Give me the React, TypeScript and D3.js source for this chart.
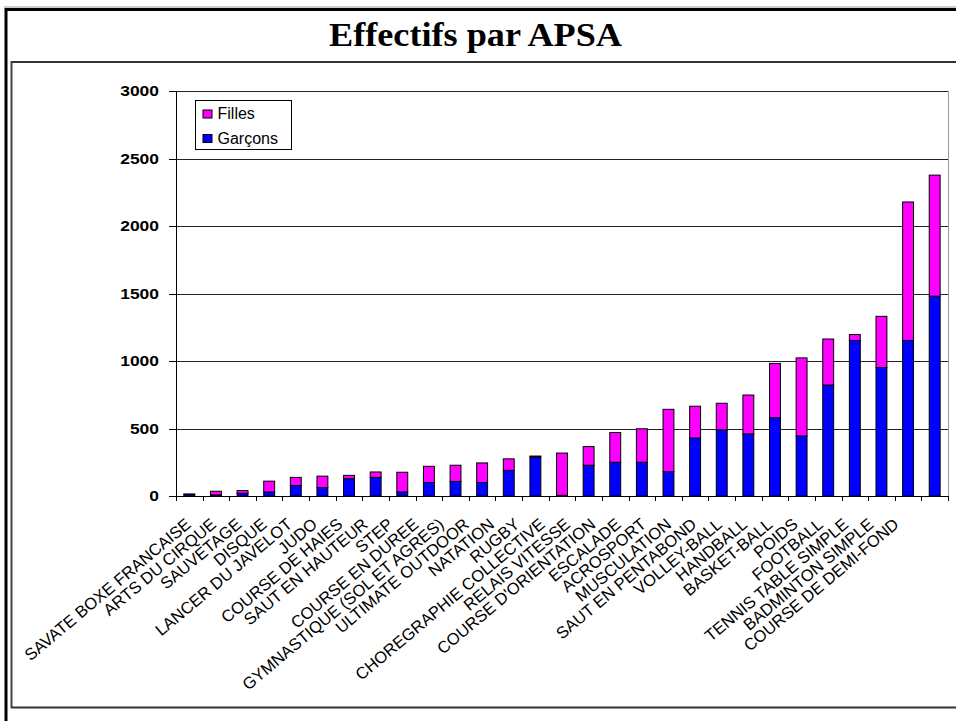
import React from "react";
import * as d3 from "d3";

const categories = [
  "SAVATE BOXE FRANCAISE",
  "ARTS DU CIRQUE",
  "SAUVETAGE",
  "DISQUE",
  "LANCER DU JAVELOT",
  "JUDO",
  "COURSE DE HAIES",
  "SAUT EN HAUTEUR",
  "STEP",
  "COURSE EN DUREE",
  "GYMNASTIQUE (SOL ET AGRES)",
  "ULTIMATE OUTDOOR",
  "NATATION",
  "RUGBY",
  "CHOREGRAPHIE COLLECTIVE",
  "RELAIS VITESSE",
  "COURSE D'ORIENTATION",
  "ESCALADE",
  "ACROSPORT",
  "MUSCULATION",
  "SAUT EN PENTABOND",
  "VOLLEY-BALL",
  "HANDBALL",
  "BASKET-BALL",
  "POIDS",
  "FOOTBALL",
  "TENNIS TABLE SIMPLE",
  "BADMINTON SIMPLE",
  "COURSE DE DEMI-FOND",
];

const garcons = [12, 8, 20, 30, 78, 62, 128, 138, 30, 100, 108, 100, 190, 288, 5, 228, 250, 250, 180, 430, 490, 460, 580, 445, 822, 1152, 952, 1152, 1480];
const filles = [3, 27, 20, 80, 60, 85, 25, 40, 146, 120, 120, 145, 85, 8, 313, 138, 220, 248, 462, 235, 197, 288, 402, 578, 341, 44, 379, 1026, 897];

const yTicks = [0, 500, 1000, 1500, 2000, 2500, 3000];
const seriesNames = ["Filles", "Garçons"];
const seriesColors = ["#FF00FF", "#0000FF"];
const title = "Effectifs par APSA";

export default function App() {
  const W = 956;
  const H = 721;
  const left = 176;
  const right = 948;
  const top = 91;
  const bottom = 496;

  const x = d3.scaleBand<string>().domain(categories).range([left, right]).paddingInner(0).paddingOuter(0);
  const step = x.step();
  const y = d3.scaleLinear().domain([0, 3000]).range([bottom, top]);
  const labelX = d3.scalePoint<string>().domain(categories).range([192, 900]);

  const rows = categories.map((c, i) => ({ cat: c, g: garcons[i], f: filles[i] }));
  const stack = d3.stack<any>().keys(["g", "f"])(rows);

  const barW = step * 0.41;
  const barOff = (step - barW) / 2;

  return (
    <svg
      width={W}
      height={H}
      style={{ position: "absolute", left: 0, top: 0, display: "block", background: "#fff" }}
      fontFamily="Liberation Sans, Arial, sans-serif"
    >
      <rect x={0} y={0} width={W} height={H} fill="#fff" />
      {/* outer frame */}
      <line x1={4} x2={W} y1={7} y2={7} stroke="#999" strokeWidth={1} />
      <line x1={5} x2={W} y1={9.5} y2={9.5} stroke="#000" strokeWidth={3} />
      <line x1={6} x2={6} y1={8} y2={H} stroke="#000" strokeWidth={3} />
      {/* inner frame */}
      <line x1={11.5} x2={W} y1={62} y2={62} stroke="#333" strokeWidth={2} />
      <line x1={11.5} x2={11.5} y1={61} y2={708} stroke="#444" strokeWidth={2} />
      <line x1={11} x2={W} y1={707.5} y2={707.5} stroke="#333" strokeWidth={2} />

      <text
        x={475.5}
        y={46}
        textAnchor="middle"
        fontFamily="Liberation Serif, Times New Roman, serif"
        fontWeight="bold"
        fontSize={33}
        textLength={293}
        lengthAdjust="spacingAndGlyphs"
        fill="#000"
      >
        {title}
      </text>

      {/* gridlines */}
      {yTicks.filter((t) => t > 0).map((t) => (
        <line key={t} x1={left} x2={right} y1={Math.round(y(t)) + 0.5} y2={Math.round(y(t)) + 0.5} stroke="#222" strokeWidth={1} />
      ))}
      {/* right border */}
      <line x1={right + 0.5} x2={right + 0.5} y1={Math.round(y(3000))} y2={bottom} stroke="#999" strokeWidth={1} />

      {/* bars */}
      {stack.map((layer, li) => (
        <g key={li} fill={li === 0 ? seriesColors[1] : seriesColors[0]}>
          {layer.map((d: any, i: number) => (
            <rect
              key={i}
              x={(x(categories[i]) as number) + barOff}
              y={y(d[1])}
              width={barW}
              height={Math.max(0, y(d[0]) - y(d[1]))}
              stroke="#000"
              strokeWidth={1}
            />
          ))}
        </g>
      ))}

      {/* y axis */}
      <line x1={left + 0.5} x2={left + 0.5} y1={top} y2={bottom} stroke="#000" strokeWidth={1} />
      {yTicks.map((t) => (
        <g key={t}>
          <line x1={169} x2={left} y1={Math.round(y(t)) + 0.5} y2={Math.round(y(t)) + 0.5} stroke="#000" strokeWidth={1} />
          <text
            x={159}
            y={y(t)}
            dy="0.36em"
            textAnchor="end"
            fontSize={14}
            fontWeight="bold"
            textLength={String(t).length * 9.7}
            lengthAdjust="spacingAndGlyphs"
            fill="#000"
          >
            {t}
          </text>
        </g>
      ))}

      {/* x axis */}
      <line x1={left} x2={right + 1} y1={bottom + 0.5} y2={bottom + 0.5} stroke="#000" strokeWidth={1} />
      {categories.map((c, i) => (
        <line key={"t" + i} x1={Math.round(x(c) as number) + 0.5} x2={Math.round(x(c) as number) + 0.5} y1={bottom} y2={bottom + 5} stroke="#000" strokeWidth={1} />
      ))}
      <line x1={right + 0.5} x2={right + 0.5} y1={bottom} y2={bottom + 5} stroke="#000" strokeWidth={1} />

      {categories.map((c) => (
        <text
          key={"l" + c}
          transform={`translate(${labelX(c)},526) rotate(-40)`}
          textAnchor="end"
          fontSize={16.5}
          fill="#000"
        >
          {c}
        </text>
      ))}

      {/* legend */}
      <rect x={195.5} y={100.5} width={96} height={49} fill="#fff" stroke="#000" strokeWidth={1} />
      {seriesNames.map((s, i) => (
        <g key={s}>
          <rect x={203} y={110 + i * 24.5} width={9} height={8} fill={seriesColors[i]} stroke="#000" strokeWidth={1} />
          <text x={217.5} y={119 + i * 24.5} fontSize={16} fill="#000">
            {s}
          </text>
        </g>
      ))}
    </svg>
  );
}
